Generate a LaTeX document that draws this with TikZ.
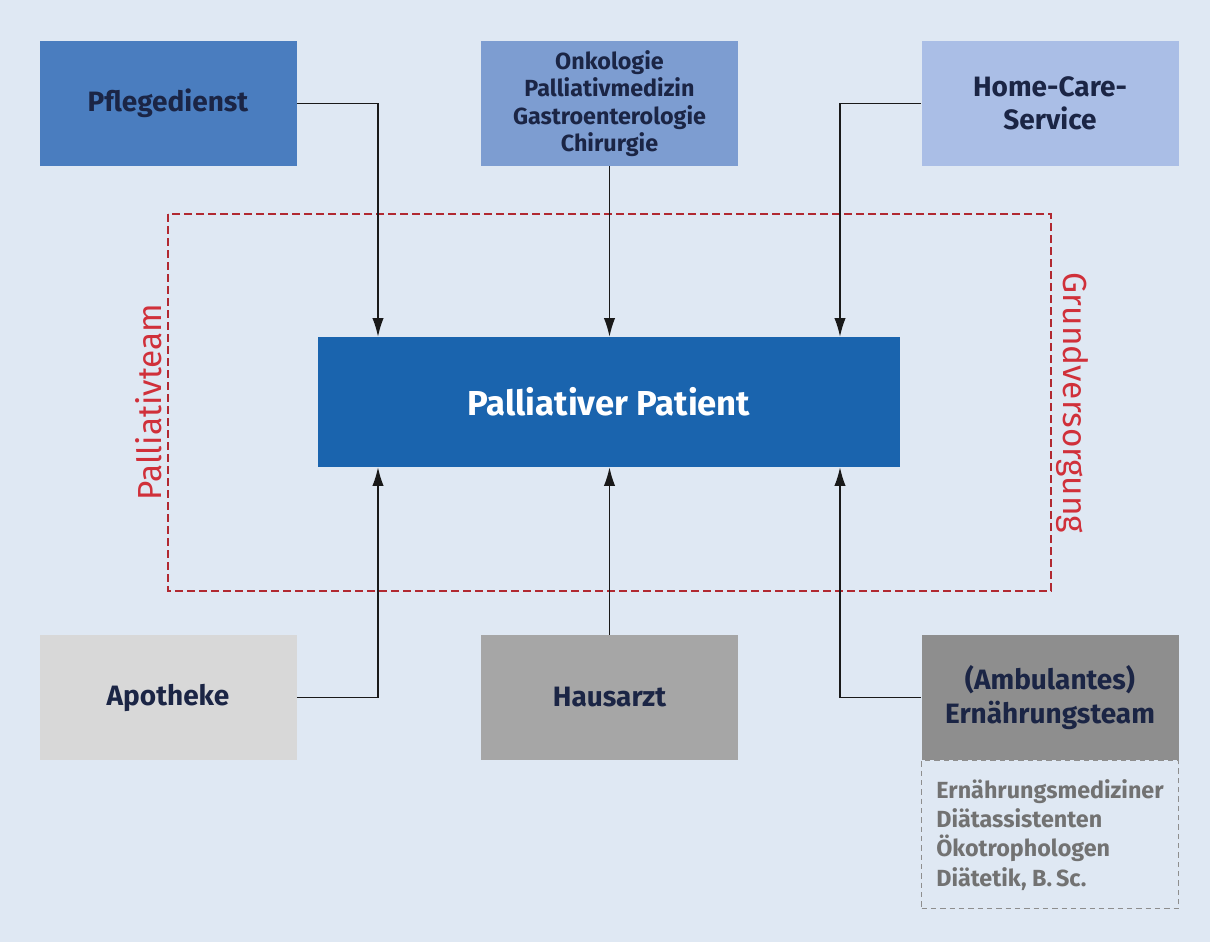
\documentclass[tikz,border=0pt]{standalone}
\usepackage{fontspec}
\setmainfont{Fira Sans}
\usetikzlibrary{arrows.meta}
\definecolor{bg}{HTML}{DFE8F3}
\definecolor{cPfl}{HTML}{4A7DBF}
\definecolor{cOnk}{HTML}{7D9DD1}
\definecolor{cHome}{HTML}{AABEE6}
\definecolor{cPat}{HTML}{1A64AE}
\definecolor{cApo}{HTML}{D8D8D8}
\definecolor{cHaus}{HTML}{A6A6A6}
\definecolor{cErn}{HTML}{8E8E8E}
\definecolor{navy}{HTML}{1B2545}
\definecolor{dred}{HTML}{D0303A}
\definecolor{gtext}{HTML}{727272}
\begin{document}
\begin{tikzpicture}[x=0.75pt,y=-0.75pt,
  box/.style={draw=none,inner sep=0pt,minimum width=192.75pt,minimum height=93.75pt,align=center,text=navy,font=\fontsize{21}{25}\selectfont\bfseries},
  sidelabel/.style={text=dred,font=\fontsize{25}{28}\selectfont},
  conn/.style={draw=black!90,line width=1pt},
  arr/.style={conn,-{Latex[length=14pt,width=8.5pt]}}]
\useasboundingbox (0,0) rectangle (1210,942);
\fill[bg] (0,0) rectangle (1210,942);
% dashed frame
\draw[dred!85!black,line width=0.8pt,dash pattern=on 6pt off 3pt] (168,214) rectangle (1051,591);
\node[sidelabel,rotate=90] (lpt) at (149,402) {Palliativteam};
\node[sidelabel,rotate=-90] (lgv) at (1072,403) {Grundversorgung};
% boxes
\node[box,fill=cPfl] (pfl) at (168,103.5) {Pflegedienst};
\node[box,fill=cOnk,font=\fontsize{17.5}{20.6}\selectfont\bfseries] (onk) at (609.5,103.5) {Onkologie\\Palliativmedizin\\Gastroenterologie\\Chirurgie};
\node[box,fill=cHome] (home) at (1050,103.5) {Home-Care-\\Service};
\node[box,fill=cPat,minimum width=436.5pt,minimum height=97.5pt,text=white,font=\fontsize{26}{28}\selectfont\bfseries] (pat) at (609,402) {Palliativer Patient};
\node[box,fill=cApo] (apo) at (168,697.5) {Apotheke};
\node[box,fill=cHaus] (haus) at (609.5,697.5) {Hausarzt};
\node[box,fill=cErn] (ern) at (1050,697.5) {(Ambulantes)\\Ernährungsteam};
\node[draw=gtext!80,line width=0.7pt,dash pattern=on 4pt off 3pt,minimum width=192.75pt,minimum height=111pt,inner sep=0pt,anchor=north,text=gtext,align=left,font=\fontsize{17.5}{22}\selectfont\bfseries] (ernsub) at (ern.south) {Ernährungsmediziner\\Diätassistenten\\Ökotrophologen\\Diätetik, B.\,Sc.};
% connectors
\draw[arr] (pfl.east) -| (pat.north -| 378,0);
\draw[arr] (onk.south) -- (pat.north -| onk.south);
\draw[arr] (home.west) -| (pat.north -| 840,0);
\draw[arr] (apo.east) -| (pat.south -| 378,0);
\draw[arr] (haus.north) -- (pat.south -| haus.north);
\draw[arr] (ern.west) -| (pat.south -| 840,0);
\end{tikzpicture}
\end{document}
